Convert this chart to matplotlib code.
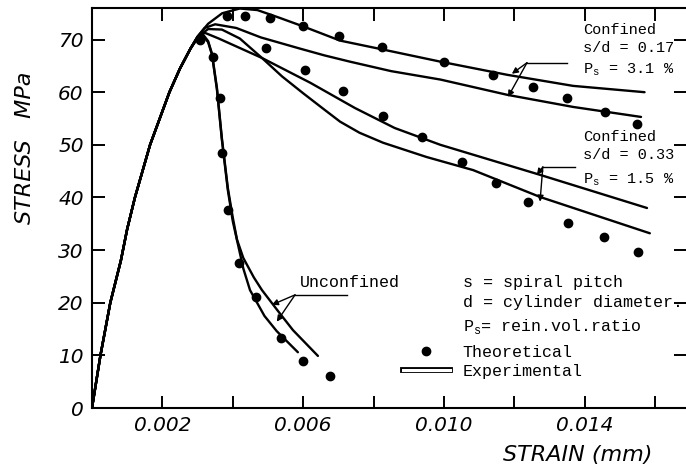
import numpy as np
import matplotlib
matplotlib.use('Agg')
import matplotlib.pyplot as plt
from matplotlib.lines import Line2D

# shared ascending branch (strain, stress MPa)
asc_strain = [0, 0.00024, 0.00052, 0.00082, 0.0010, 0.00122, 0.00165, 0.0022, 0.0025, 0.0028]
asc_stress = [0, 10, 20, 28, 34, 40, 50, 60, 64.5, 68.3]

# unconfined - experimental pair
unc_in_strain = [0.003, 0.00313, 0.0033, 0.00341, 0.00355, 0.00369, 0.00386, 0.0040, 0.0043, 0.00449, 0.0049, 0.00525, 0.00585]
unc_in_stress = [70.3, 70.9, 69.5, 67.1, 60.5, 51.0, 41.4, 35.5, 26.5, 22.4, 17.5, 14.6, 10.6]
unc_out_strain = [0.003, 0.00315, 0.0033, 0.00341, 0.00355, 0.00369, 0.00386, 0.0040, 0.00412, 0.0043, 0.0046, 0.00483, 0.0053, 0.00571, 0.00642]
unc_out_stress = [70.3, 71.0, 69.7, 67.3, 60.8, 51.3, 41.8, 36.2, 32.0, 28.5, 24.8, 22.4, 18.3, 14.8, 9.9]
unc_th_strain = [0.00307, 0.00344, 0.00364, 0.00369, 0.00386, 0.00417, 0.00466, 0.00537, 0.0060, 0.00675]
unc_th_stress = [70.0, 66.7, 58.9, 48.5, 37.6, 27.5, 21.1, 13.3, 9.0, 6.0]

# confined s/d = 0.17 - experimental pair
c17_a_strain = [0.003, 0.0033, 0.0037, 0.0042, 0.0047, 0.0053, 0.0060, 0.00705, 0.0082, 0.0099, 0.0118, 0.01367, 0.0157]
c17_a_stress = [70.6, 73.0, 75.0, 75.9, 75.6, 74.2, 72.5, 69.8, 68.2, 65.8, 63.3, 61.2, 60.0]
c17_b_strain = [0.003, 0.0032, 0.0035, 0.0041, 0.0048, 0.0059, 0.0066, 0.00733, 0.0085, 0.0099, 0.0118, 0.01367, 0.0156]
c17_b_stress = [70.5, 72.2, 72.9, 72.2, 70.4, 68.3, 67.0, 65.8, 64.0, 62.4, 59.5, 57.2, 55.3]
c17_th_strain = [0.00384, 0.00435, 0.00506, 0.0060, 0.00702, 0.00824, 0.0100, 0.0114, 0.01253, 0.0135, 0.01457, 0.01548]
c17_th_stress = [74.5, 74.5, 74.1, 72.6, 70.7, 68.6, 65.8, 63.3, 61.0, 58.9, 56.3, 54.0]

# confined s/d = 0.33 - experimental pair
c33_a_strain = [0.003, 0.0032, 0.0036, 0.00483, 0.0062, 0.00747, 0.0086, 0.0099, 0.01273, 0.01577]
c33_a_stress = [70.5, 71.3, 70.2, 66.5, 61.8, 57.0, 53.2, 50.0, 44.3, 38.0]
c33_b_strain = [0.003, 0.0033, 0.00369, 0.0042, 0.00483, 0.0054, 0.0060, 0.0066, 0.00705, 0.0076, 0.00827, 0.0095, 0.01083, 0.01273, 0.01585]
c33_b_stress = [70.5, 72.0, 71.9, 70.2, 66.5, 63.0, 59.8, 56.7, 54.4, 52.3, 50.4, 47.7, 45.2, 40.1, 33.2]
c33_th_strain = [0.00494, 0.00605, 0.00713, 0.00827, 0.00938, 0.01051, 0.01148, 0.01239, 0.01352, 0.01455, 0.01551]
c33_th_stress = [68.4, 64.3, 60.3, 55.5, 51.5, 46.8, 42.8, 39.2, 35.2, 32.5, 29.7]

xticks = [0.002, 0.004, 0.006, 0.008, 0.010, 0.012, 0.014, 0.016]
xtick_labels = ['0.002', '', '0.006', '', '0.010', '', '0.014', '']
yticks = [0, 10, 20, 30, 40, 50, 60, 70]

mono = 'Liberation Mono'
LW = 1.7

fig = plt.figure(figsize=(6.86, 4.69), dpi=100)
ax = fig.add_axes([0.1341, 0.130, 0.866, 0.853])

exp_lines = [(unc_in_strain, unc_in_stress), (unc_out_strain, unc_out_stress),
             (c17_a_strain, c17_a_stress), (c17_b_strain, c17_b_stress),
             (c33_a_strain, c33_a_stress), (c33_b_strain, c33_b_stress)]
for xs, ys in exp_lines:
    ax.plot(np.concatenate([asc_strain, xs]), np.concatenate([asc_stress, ys]),
            color='black', lw=LW, solid_capstyle='round', solid_joinstyle='round')

for xs, ys in [(unc_th_strain, unc_th_stress), (c17_th_strain, c17_th_stress),
               (c33_th_strain, c33_th_stress)]:
    ax.plot(xs, ys, 'o', color='black', ms=6, ls='none')

ax.set_xlim(0, 0.01688)
ax.set_ylim(0, 76)

ax.set_xticks(xticks)
ax.set_xticklabels(xtick_labels)
ax.set_yticks(yticks)
ax.tick_params(axis='both', direction='in', width=1.4, labelsize=14.5, pad=6)
ax.tick_params(axis='x', length=9, top=True)
ax.tick_params(axis='y', length=9, right=True)
for lab in ax.get_xticklabels() + ax.get_yticklabels():
    lab.set_fontstyle('italic')
for side in ['left', 'bottom', 'top']:
    ax.spines[side].set_linewidth(1.5)
ax.spines['right'].set_visible(False)

fig.text(25 / 686, 1 - 148 / 469, 'STRESS   MPa', rotation=90, fontsize=16,
         fontstyle='italic', ha='center', va='center')
fig.text(578 / 686, 1 - 455 / 469, 'STRAIN (mm)', fontsize=16,
         fontstyle='italic', ha='center', va='center')

# case labels
tk = dict(family=mono, fontsize=12, ha='left', va='center')
tc = dict(family=mono, fontsize=11, ha='left', va='center')
ax.text(0.01395, 71.9, 'Confined', **tc)
ax.text(0.01395, 68.4, 's/d = 0.17', **tc)
ax.text(0.01395, 64.2, r'P$_\mathregular{s}$ = 3.1 %', **tc)
ax.text(0.01395, 51.5, 'Confined', **tc)
ax.text(0.01395, 48.1, 's/d = 0.33', **tc)
ax.text(0.01395, 43.3, r'P$_\mathregular{s}$ = 1.5 %', **tc)
ax.text(0.00591, 23.8, 'Unconfined', **tk)
ax.text(0.01054, 23.8, 's = spiral pitch', **tk)
ax.text(0.01054, 20.0, 'd = cylinder diameter.', **tk)
ax.text(0.01054, 15.5, r'P$_\mathregular{s}$= rein.vol.ratio', **tk)

# leader lines with arrows
leaders = [
    ((0.01236, 65.6), (0.0135, 65.6), [(0.01193, 63.5), (0.01182, 59.1)]),
    ((0.01281, 45.8), (0.01372, 45.8), [(0.01264, 44.3), (0.01273, 39.2)]),
    ((0.00577, 21.5), (0.00724, 21.5), [(0.00511, 19.6), (0.00525, 16.4)]),
]
for (x0, y0), (x1, y1), tips in leaders:
    ax.plot([x0, x1], [y0, y1], color='black', lw=1.0)
    for tip in tips:
        ax.annotate('', xy=tip, xytext=(x0, y0),
                    arrowprops=dict(arrowstyle='-|>', color='black', lw=1.0,
                                    mutation_scale=9, shrinkA=0, shrinkB=0))

# legend
h_th = Line2D([], [], marker='o', color='black', ls='none', ms=6)
h_ex = (Line2D([], [], color='black', lw=4.2), Line2D([], [], color='white', lw=2.2))
ax.legend([h_th, h_ex], ['Theoretical', 'Experimental'], loc='center left',
          bbox_to_anchor=(0.5236, 0.115), frameon=False, borderpad=0,
          borderaxespad=0, handlelength=2.8, handletextpad=0.78,
          labelspacing=0.25, prop={'family': mono, 'size': 12})

fig.savefig('out.png', dpi=100)
